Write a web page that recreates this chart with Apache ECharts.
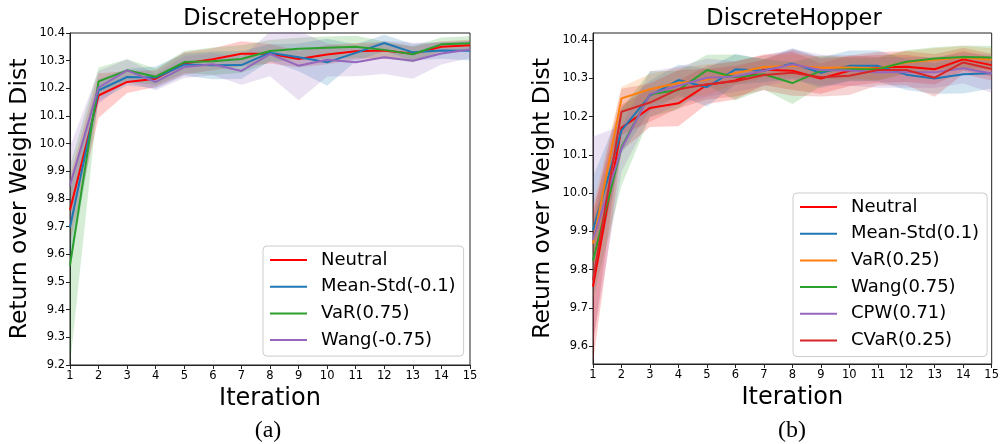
<!DOCTYPE html>
<html>
<head>
<meta charset="utf-8">
<script src="https://cdn.jsdelivr.net/npm/echarts@6/dist/echarts.min.js"></script>
<style>
  html, body { margin: 0; padding: 0; background: #fff; }
  #chart { width: 1002px; height: 444px; }
</style>
</head>
<body>
<div id="chart"></div>
<script>
// iterations on the x axis
const iterations = ['1', '2', '3', '4', '5', '6', '7', '8', '9', '10', '11', '12', '13', '14', '15']

// (a) mean return and half width of the shaded band
const aNeutral = [9.76, 10.174, 10.223, 10.235, 10.29, 10.305, 10.325, 10.325, 10.306, 10.322, 10.334, 10.337, 10.325, 10.35, 10.356]
const aNeutralStd = [0.12, 0.08, 0.04, 0.03, 0.04, 0.04, 0.045, 0.035, 0.03, 0.035, 0.03, 0.03, 0.025, 0.02, 0.02]
const aMeanStd = [9.697, 10.193, 10.241, 10.239, 10.286, 10.283, 10.284, 10.329, 10.312, 10.294, 10.328, 10.364, 10.33, 10.337, 10.336]
const aMeanStdStd = [0.15, 0.04, 0.03, 0.04, 0.04, 0.05, 0.05, 0.03, 0.05, 0.085, 0.03, 0.03, 0.03, 0.03, 0.035]
const aVaR = [9.56, 10.225, 10.265, 10.242, 10.295, 10.298, 10.306, 10.335, 10.343, 10.347, 10.35, 10.339, 10.323, 10.359, 10.363]
const aVaRStd = [0.36, 0.05, 0.04, 0.03, 0.04, 0.05, 0.05, 0.04, 0.04, 0.04, 0.04, 0.03, 0.03, 0.025, 0.025]
const aWang = [9.85, 10.203, 10.265, 10.223, 10.277, 10.287, 10.263, 10.324, 10.282, 10.303, 10.294, 10.312, 10.3, 10.326, 10.34]
const aWangStd = [0.14, 0.06, 0.04, 0.03, 0.04, 0.04, 0.05, 0.08, 0.125, 0.06, 0.05, 0.06, 0.065, 0.04, 0.03]

// (b)
const bNeutral = [9.755, 10.171, 10.223, 10.235, 10.283, 10.295, 10.323, 10.32, 10.3, 10.32, 10.329, 10.331, 10.324, 10.35, 10.335]
const bNeutralStd = [0.2, 0.06, 0.05, 0.06, 0.05, 0.05, 0.04, 0.05, 0.04, 0.04, 0.04, 0.04, 0.04, 0.03, 0.03]
const bMeanStd = [9.903, 10.164, 10.255, 10.296, 10.277, 10.324, 10.32, 10.339, 10.315, 10.333, 10.333, 10.31, 10.3, 10.311, 10.314]
const bMeanStdStd = [0.14, 0.06, 0.04, 0.04, 0.05, 0.04, 0.03, 0.04, 0.04, 0.04, 0.04, 0.04, 0.04, 0.05, 0.04]
const bVaR = [9.868, 10.248, 10.272, 10.288, 10.297, 10.314, 10.33, 10.333, 10.328, 10.329, 10.326, 10.342, 10.349, 10.355, 10.349]
const bVaRStd = [0.1, 0.03, 0.04, 0.04, 0.04, 0.03, 0.03, 0.03, 0.03, 0.03, 0.03, 0.03, 0.03, 0.03, 0.03]
const bWang = [9.824, 10.12, 10.259, 10.27, 10.322, 10.303, 10.311, 10.288, 10.32, 10.324, 10.324, 10.344, 10.352, 10.356, 10.355]
const bWangStd = [0.1, 0.1, 0.06, 0.05, 0.04, 0.06, 0.04, 0.055, 0.04, 0.03, 0.03, 0.03, 0.03, 0.03, 0.03]
const bCPW = [9.878, 10.116, 10.259, 10.281, 10.302, 10.305, 10.32, 10.337, 10.322, 10.321, 10.316, 10.316, 10.316, 10.327, 10.313]
const bCPWStd = [0.27, 0.06, 0.06, 0.05, 0.05, 0.04, 0.04, 0.04, 0.04, 0.04, 0.04, 0.04, 0.04, 0.04, 0.05]
const bCVaR = [9.772, 10.213, 10.237, 10.272, 10.285, 10.293, 10.309, 10.315, 10.303, 10.307, 10.322, 10.322, 10.302, 10.342, 10.325]
const bCVaRStd = [0.17, 0.06, 0.05, 0.05, 0.04, 0.04, 0.04, 0.06, 0.05, 0.05, 0.04, 0.04, 0.05, 0.03, 0.03]

const FONT = 'DejaVu Sans'

const chart = echarts.init(document.getElementById('chart'), null, { renderer: 'canvas' })

const left = [
  { name: 'Neutral', mean: aNeutral, std: aNeutralStd, color: '#ff0000' },
  { name: 'Mean-Std(-0.1)', mean: aMeanStd, std: aMeanStdStd, color: '#1f77b4' },
  { name: 'VaR(0.75)', mean: aVaR, std: aVaRStd, color: '#2ca02c' },
  { name: 'Wang(-0.75)', mean: aWang, std: aWangStd, color: '#9467bd' }
]
const right = [
  { name: 'Neutral', mean: bNeutral, std: bNeutralStd, color: '#ff0000' },
  { name: 'Mean-Std(0.1)', mean: bMeanStd, std: bMeanStdStd, color: '#1f77b4' },
  { name: 'VaR(0.25)', mean: bVaR, std: bVaRStd, color: '#ff7f0e' },
  { name: 'Wang(0.75)', mean: bWang, std: bWangStd, color: '#2ca02c' },
  { name: 'CPW(0.71)', mean: bCPW, std: bCPWStd, color: '#9467bd' },
  { name: 'CVaR(0.25)', mean: bCVaR, std: bCVaRStd, color: '#d62728' }
]

// bands are stacked areas: invisible lower edge + filled width
const makeSeries = (list, idx) => {
  const bands = []
  const lines = []
  list.forEach((s, k) => {
    const stack = 'band' + idx + '_' + k
    bands.push({
      type: 'line', xAxisIndex: idx, yAxisIndex: idx, stack: stack, silent: true,
      symbol: 'none', lineStyle: { opacity: 0 },
      data: s.mean.map((m, i) => m - s.std[i])
    })
    bands.push({
      type: 'line', xAxisIndex: idx, yAxisIndex: idx, stack: stack, silent: true,
      symbol: 'none', lineStyle: { opacity: 0 },
      areaStyle: { color: s.color, opacity: 0.2 },
      data: s.std.map(v => 2 * v)
    })
    lines.push({
      name: s.name, type: 'line', xAxisIndex: idx, yAxisIndex: idx,
      symbol: 'none', color: s.color,
      lineStyle: { color: s.color, width: 2 },
      data: s.mean
    })
  })
  return bands.concat(lines)
}

const xAxisBase = (idx) => ({
  type: 'category', gridIndex: idx, data: iterations, boundaryGap: false,
  name: 'Iteration', nameLocation: 'middle', nameGap: 22,
  nameTextStyle: { fontFamily: FONT, fontSize: 24, color: '#000' },
  axisLine: { lineStyle: { color: '#222', width: 1 } },
  axisTick: { length: 4, lineStyle: { color: '#222' } },
  axisLabel: { interval: 0, fontFamily: FONT, fontSize: 11.5, color: '#000', margin: 5 },
  splitLine: { show: false }
})

const yAxisBase = (idx) => ({
  type: 'value', gridIndex: idx,
  name: 'Return over Weight Dist', nameLocation: 'middle', nameGap: 38,
  nameTextStyle: { fontFamily: FONT, fontSize: 23.5, color: '#000' },
  axisLine: { show: true, lineStyle: { color: '#222', width: 1 } },
  axisTick: { show: true, length: 4, lineStyle: { color: '#222' } },
  axisLabel: { fontFamily: FONT, fontSize: 11.5, color: '#000', margin: 5, formatter: v => v.toFixed(1) },
  splitLine: { show: false }
})

const legendBase = (data, x, y) => ({
  data: data, orient: 'vertical', left: x, top: y,
  icon: 'rect', itemWidth: 37, itemHeight: 2, itemGap: 6.7,
  padding: [4, 8, 6, 7],
  backgroundColor: 'rgba(255,255,255,0.8)',
  borderColor: '#cccccc', borderWidth: 1, borderRadius: 4,
  textStyle: { fontFamily: FONT, fontSize: 18, color: '#000', lineHeight: 20, padding: [0, 0, 0, 9] }
})

const titleStyle = { fontFamily: FONT, fontSize: 22.5, fontWeight: 'normal', color: '#000' }
const captionStyle = { fontFamily: 'Liberation Serif', fontSize: 24, fontWeight: 'normal', color: '#000' }

const option = {
  animation: false,
  backgroundColor: '#fff',
  title: [
    { text: 'DiscreteHopper', left: 266, top: 3, textAlign: 'center', textStyle: titleStyle },
    { text: 'DiscreteHopper', left: 789, top: 3, textAlign: 'center', textStyle: titleStyle },
    { text: '(a)', left: 263, top: 414, textAlign: 'center', textStyle: captionStyle },
    { text: '(b)', left: 787, top: 414, textAlign: 'center', textStyle: captionStyle }
  ],
  grid: [
    { left: 70, top: 33, width: 400, height: 332, show: true, borderColor: '#222', borderWidth: 1, backgroundColor: 'transparent' },
    { left: 593, top: 33, width: 401, height: 331, show: true, borderColor: '#222', borderWidth: 1, backgroundColor: 'transparent' }
  ],
  xAxis: [xAxisBase(0), xAxisBase(1)],
  yAxis: [
    Object.assign(yAxisBase(0), { min: 9.2, max: 10.4, interval: 0.1 }),
    Object.assign(yAxisBase(1), {
      min: 9.553, max: 10.419, splitNumber: 9,
      axisLabel: Object.assign(yAxisBase(1).axisLabel, { showMinLabel: false, showMaxLabel: false })
    })
  ],
  legend: [
    legendBase(left.map(s => s.name), 263, 246),
    legendBase(right.map(s => s.name), 793, 193)
  ],
  series: makeSeries(left, 0).concat(makeSeries(right, 1))
}

chart.setOption(option)
</script>
</body>
</html>
